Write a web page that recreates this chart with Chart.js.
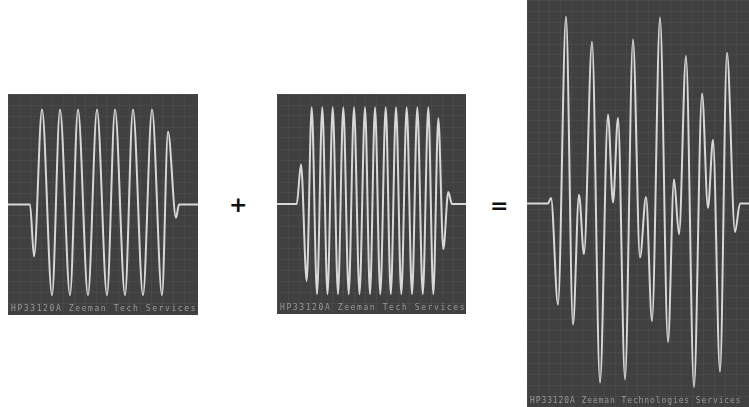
<!DOCTYPE html>
<html>
<head>
<meta charset="utf-8">
<script src="https://cdn.jsdelivr.net/npm/chart.js"></script>
<style>
    html, body { margin: 0; padding: 0; background: #ffffff; }
    body { width: 749px; height: 407px; position: relative; overflow: hidden; font-family: "DejaVu Sans", sans-serif; }
    .panel { position: absolute; background: #404040; }
    .panel canvas { position: absolute; left: 0; top: 0; }
    .caption { position: absolute; left: 3px; bottom: 2px; font-family: "DejaVu Sans Mono", monospace; font-size: 8px; color: #9a9a9a; white-space: nowrap; }
    .op { position: absolute; font-weight: bold; color: #111; font-size: 22px; line-height: 24px; }
</style>
</head>
<body>

<div class="panel" id="p1" style="left:8px; top:94px; width:190px; height:221px;">
    <canvas id="burstAChart"></canvas>
    <div class="caption" style="letter-spacing:1.6px;">HP33120A Zeeman Tech Services</div>
</div>
<div class="op" style="left:229px; top:193px;">+</div>
<div class="panel" id="p2" style="left:277px; top:94px; width:189px; height:220px;">
    <canvas id="burstBChart"></canvas>
    <div class="caption" style="letter-spacing:1.6px;">HP33120A Zeeman Tech Services</div>
</div>
<div class="op" style="left:490px; top:194px;">=</div>
<div class="panel" id="p3" style="left:527px; top:0px; width:222px; height:407px;">
    <canvas id="sumChart"></canvas>
    <div class="caption" style="letter-spacing:0.9px;">HP33120A Zeeman Technologies Services</div>
</div>

<script>
// Burst A (8 cycles) - time in panel units, amplitude in volts
const burstA_t = [0, 22, 26, 34, 44, 52, 62, 70, 80, 89, 99, 107, 117, 125, 135, 144, 154, 160, 168, 171, 190];
const burstA_v = [0, 0, -0.47, 0.86, -0.82, 0.86, -0.82, 0.86, -0.82, 0.86, -0.82, 0.86, -0.82, 0.86, -0.82, 0.86, -0.82, 0.66, -0.12, 0, 0];

// Burst B (higher frequency, ~14 cycles)
const burstB_t = [0, 19.7, 24, 29.7, 34.7, 40, 45.3, 50.5, 55.7, 61, 66.3, 71.7, 77, 82.5, 88, 93, 98, 103.3, 108.7, 113.8, 119, 124.3, 129.7, 135, 140.3, 145.8, 151.3, 156.3, 161.3, 166.3, 171.3, 175, 189];
const burstB_v = [0, 0, 0.36, -0.70, 0.88, -0.82, 0.88, -0.82, 0.88, -0.82, 0.88, -0.82, 0.88, -0.82, 0.88, -0.82, 0.88, -0.82, 0.88, -0.82, 0.88, -0.82, 0.88, -0.82, 0.88, -0.82, 0.88, -0.82, 0.78, -0.41, 0.11, 0, 0];

// Sum of both bursts
const sum_t = [0, 21, 24, 31, 39, 46, 52, 57, 65, 73, 81, 86, 91, 98, 106, 113, 119, 125, 133, 141, 147, 152, 159, 167, 175, 181, 186, 193, 200, 208, 213, 222];
const sum_v = [0, 0, 0.05, -0.92, 1.70, -1.10, 0.08, -0.46, 1.47, -1.63, 0.81, 0.01, 0.78, -1.60, 1.49, -0.49, 0.06, -1.07, 1.69, -1.26, 0.22, -0.28, 1.34, -1.67, 1.00, -0.04, 0.58, -1.53, 1.37, -0.26, 0, 0];

function makeScope(canvasId, times, values, width, vMax) {
    const points = times.map((t, i) => ({ x: t, y: values[i] }));
    return new Chart(document.getElementById(canvasId), {
        type: 'line',
        data: {
            datasets: [{
                data: points,
                borderColor: '#d8d8d8',
                borderWidth: 2,
                pointRadius: 0,
                fill: false,
                cubicInterpolationMode: 'monotone'
            }]
        },
        options: {
            responsive: true,
            maintainAspectRatio: false,
            animation: false,
            layout: { padding: 0 },
            plugins: { legend: { display: false }, tooltip: { enabled: false } },
            scales: {
                x: {
                    type: 'linear',
                    min: 0,
                    max: width,
                    ticks: { display: false, stepSize: 11 },
                    grid: { color: 'rgba(255,255,255,0.045)', drawTicks: false },
                    border: { display: false }
                },
                y: {
                    min: -vMax,
                    max: vMax,
                    ticks: { display: false, stepSize: 0.1 },
                    grid: { color: 'rgba(255,255,255,0.045)', drawTicks: false },
                    border: { display: false }
                }
            }
        }
    });
}

makeScope('burstAChart', burstA_t, burstA_v, 190, 1.0);
makeScope('burstBChart', burstB_t, burstB_v, 189, 1.0);
makeScope('sumChart', sum_t, sum_v, 222, 1.85);
</script>
</body>
</html>
